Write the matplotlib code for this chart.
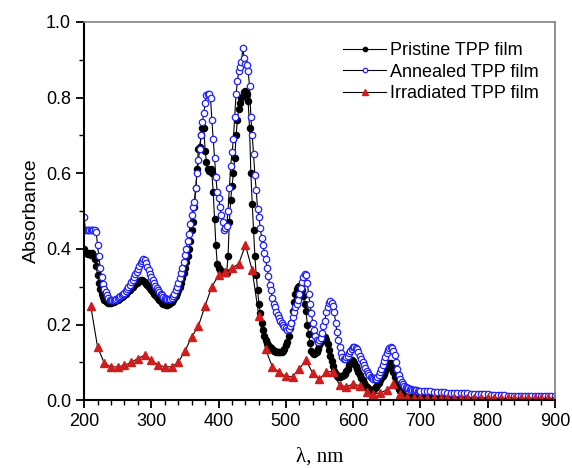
import numpy as np
import matplotlib.pyplot as plt
from matplotlib.ticker import MultipleLocator

# wavelength grid: 2 nm steps up to 700 nm, then 5 nm steps to 900 nm
wl = np.concatenate([np.arange(200, 701, 2), np.arange(705, 901, 5)])

pristine = [
    0.40, 0.39, 0.388, 0.387, 0.39, 0.385, 0.39, 0.385, 0.372, 0.355,
    0.33, 0.31, 0.295, 0.28, 0.272, 0.266, 0.262, 0.26, 0.258, 0.258,
    0.258, 0.259, 0.26, 0.262, 0.264, 0.266, 0.268, 0.27, 0.273, 0.276,
    0.279, 0.282, 0.285, 0.288, 0.292, 0.296, 0.30, 0.304, 0.308, 0.31,
    0.312, 0.315, 0.317, 0.317, 0.315, 0.312, 0.308, 0.304, 0.30, 0.296,
    0.292, 0.287, 0.282, 0.278, 0.274, 0.27, 0.266, 0.262, 0.258, 0.255,
    0.253, 0.252, 0.252, 0.253, 0.256, 0.26, 0.265, 0.27, 0.276, 0.283,
    0.29, 0.30, 0.31, 0.322, 0.335, 0.35, 0.365, 0.38, 0.40, 0.42,
    0.45, 0.47, 0.51, 0.56, 0.61, 0.665, 0.67, 0.70, 0.72, 0.72,
    0.66, 0.63, 0.61, 0.605, 0.61, 0.60, 0.55, 0.48, 0.41, 0.36,
    0.35, 0.345, 0.342, 0.34, 0.338, 0.335, 0.336, 0.38, 0.47, 0.53,
    0.565, 0.60, 0.64, 0.70, 0.74, 0.77, 0.785, 0.80, 0.805, 0.815,
    0.818, 0.81, 0.79, 0.72, 0.60, 0.52, 0.45, 0.38, 0.33, 0.29,
    0.255, 0.23, 0.205, 0.185, 0.17, 0.158, 0.15, 0.145, 0.14, 0.137,
    0.134, 0.131, 0.129, 0.128, 0.127, 0.127, 0.127, 0.128, 0.13, 0.135,
    0.145, 0.155, 0.17, 0.19, 0.205, 0.235, 0.26, 0.28, 0.293, 0.30,
    0.303, 0.302, 0.29, 0.275, 0.255, 0.235, 0.20, 0.175, 0.15, 0.13,
    0.125, 0.123, 0.124, 0.128, 0.136, 0.145, 0.155, 0.162, 0.167, 0.167,
    0.16, 0.148, 0.133, 0.118, 0.103, 0.09, 0.078, 0.068, 0.063, 0.062,
    0.062, 0.063, 0.064, 0.066, 0.07, 0.076, 0.083, 0.092, 0.10, 0.106,
    0.104, 0.098, 0.09, 0.082, 0.074, 0.066, 0.059, 0.052, 0.046, 0.04,
    0.035, 0.031, 0.028, 0.027, 0.027, 0.028, 0.031, 0.035, 0.04, 0.046,
    0.052, 0.058, 0.064, 0.07, 0.077, 0.085, 0.093, 0.098, 0.097, 0.088,
    0.075, 0.06, 0.048, 0.038, 0.03, 0.023, 0.018, 0.014, 0.011, 0.01,
    0.009, 0.009, 0.009, 0.008, 0.008, 0.008, 0.008, 0.008, 0.008, 0.008,
    0.008,
    0.008, 0.008, 0.008, 0.008, 0.008, 0.008, 0.008, 0.008, 0.008, 0.007,
    0.007, 0.007, 0.007, 0.007, 0.007, 0.007, 0.007, 0.007, 0.007, 0.007,
    0.007, 0.007, 0.007, 0.006, 0.006, 0.006, 0.006, 0.006, 0.006, 0.006,
    0.006, 0.006, 0.006, 0.006, 0.006, 0.006, 0.006, 0.006, 0.006, 0.006,
]

annealed = [
    0.485, 0.45, 0.45, 0.45, 0.45, 0.45, 0.45, 0.45, 0.45, 0.445,
    0.41, 0.38, 0.35, 0.325, 0.308, 0.295, 0.285, 0.277, 0.27, 0.266,
    0.264, 0.264, 0.265, 0.266, 0.268, 0.27, 0.272, 0.275, 0.277, 0.28,
    0.283, 0.288, 0.293, 0.298, 0.305, 0.312, 0.318, 0.325, 0.333, 0.34,
    0.348, 0.356, 0.363, 0.369, 0.372, 0.37, 0.363, 0.353, 0.343, 0.334,
    0.325, 0.318, 0.31, 0.303, 0.297, 0.291, 0.286, 0.281, 0.277, 0.273,
    0.27, 0.268, 0.267, 0.267, 0.268, 0.271, 0.276, 0.282, 0.29, 0.30,
    0.31, 0.322, 0.335, 0.35, 0.365, 0.383, 0.40, 0.42, 0.44, 0.465,
    0.49, 0.51, 0.525, 0.56, 0.60, 0.635, 0.665, 0.70, 0.735, 0.76,
    0.785, 0.806, 0.81, 0.81, 0.80, 0.74, 0.69, 0.64, 0.59, 0.55,
    0.535, 0.51, 0.49, 0.47, 0.45, 0.455, 0.46, 0.50, 0.56, 0.62,
    0.655, 0.69, 0.75, 0.81, 0.843, 0.87, 0.88, 0.895, 0.93, 0.905,
    0.888, 0.885, 0.87, 0.83, 0.75, 0.70, 0.65, 0.595, 0.555, 0.505,
    0.485, 0.455, 0.43, 0.41, 0.39, 0.373, 0.35, 0.328, 0.305, 0.29,
    0.27, 0.255, 0.245, 0.232, 0.225, 0.218, 0.21, 0.205, 0.198, 0.194,
    0.19, 0.186, 0.187, 0.195, 0.205, 0.22, 0.232, 0.245, 0.255, 0.265,
    0.28, 0.297, 0.312, 0.325, 0.333, 0.33, 0.31, 0.28, 0.255, 0.23,
    0.205, 0.185, 0.17, 0.16, 0.155, 0.158, 0.165, 0.178, 0.195, 0.21,
    0.232, 0.245, 0.258, 0.262, 0.258, 0.25, 0.232, 0.205, 0.18, 0.158,
    0.14, 0.125, 0.115, 0.11, 0.11, 0.113, 0.118, 0.125, 0.13, 0.136,
    0.14, 0.141, 0.139, 0.134, 0.126, 0.118, 0.11, 0.102, 0.093, 0.085,
    0.078, 0.072, 0.066, 0.061, 0.058, 0.056, 0.055, 0.056, 0.06, 0.066,
    0.074, 0.082, 0.092, 0.103, 0.114, 0.125, 0.132, 0.137, 0.14, 0.137,
    0.13, 0.12, 0.10, 0.082, 0.066, 0.055, 0.047, 0.042, 0.038, 0.035,
    0.033, 0.031, 0.03, 0.029, 0.028, 0.027, 0.026, 0.026, 0.025, 0.025,
    0.024,
    0.024, 0.023, 0.023, 0.022, 0.022, 0.021, 0.021, 0.02, 0.02, 0.02,
    0.019, 0.019, 0.018, 0.018, 0.017, 0.017, 0.016, 0.016, 0.015, 0.015,
    0.014, 0.014, 0.013, 0.013, 0.013, 0.012, 0.012, 0.012, 0.012, 0.011,
    0.011, 0.011, 0.011, 0.011, 0.01, 0.01, 0.01, 0.01, 0.01, 0.01,
]

wl_irr = np.arange(210, 901, 10)
irradiated = [
    0.248, 0.141, 0.098, 0.088, 0.088, 0.092, 0.10, 0.11, 0.119, 0.105,
    0.093, 0.088, 0.088, 0.10, 0.13, 0.167, 0.196, 0.25, 0.30, 0.33,
    0.34, 0.349, 0.361, 0.41, 0.343, 0.222, 0.134, 0.088, 0.074, 0.063,
    0.062, 0.083, 0.106, 0.071, 0.055, 0.075, 0.075, 0.04, 0.035, 0.043,
    0.038, 0.022, 0.017, 0.019, 0.027, 0.043, 0.015, 0.008, 0.006, 0.005,
    0.005, 0.005, 0.005, 0.005, 0.005, 0.005, 0.005, 0.005, 0.005, 0.005,
    0.005, 0.005, 0.005, 0.005, 0.005, 0.005, 0.005, 0.005, 0.005, 0.005,
]

fig = plt.figure(figsize=(5.72, 4.68), dpi=100)
ax = fig.add_axes([0.147, 0.145, 0.823, 0.808])

ax.plot(wl, pristine, '-', color='black', lw=0.8, marker='o', ms=4.4,
        mfc='black', mec='black', label='Pristine TPP film')
ax.plot(wl, annealed, '-', color='black', lw=0.8, marker='o', ms=4.6,
        mfc='white', mec='#2020ff', mew=0.9, label='Annealed TPP film')
ax.plot(wl_irr, irradiated, '-', color='black', lw=0.8, marker='^', ms=5.5,
        mfc='#d01c1c', mec='#d01c1c', label='Irradiated TPP film')

ax.set_xlim(200, 900)
ax.set_ylim(0, 1.0)
ax.xaxis.set_major_locator(MultipleLocator(100))
ax.xaxis.set_minor_locator(MultipleLocator(20))
ax.yaxis.set_major_locator(MultipleLocator(0.2))
ax.yaxis.set_minor_locator(MultipleLocator(0.1))
ax.yaxis.set_major_formatter(plt.FormatStrFormatter('%.1f'))
ax.tick_params(which='major', direction='out', length=6, width=1.3,
               labelsize=13, top=False, right=False)
ax.tick_params(which='minor', direction='out', length=3.5, width=1,
               top=False, right=False)
for lab in ax.get_xticklabels() + ax.get_yticklabels():
    lab.set_family('Liberation Sans')

ax.spines['left'].set_linewidth(1.5)
ax.spines['bottom'].set_linewidth(1.5)
for s in ['top', 'right']:
    ax.spines[s].set_color('#808080')
    ax.spines[s].set_linewidth(1.2)

ax.set_ylabel('Absorbance', family='Liberation Sans', fontsize=14)
ax.set_xlabel('λ, nm', family='Liberation Serif', fontsize=15)
ax.xaxis.set_label_coords(0.5, -0.125)

leg = ax.legend(loc='upper right', frameon=False, handlelength=2.4,
                prop={'family': 'Liberation Sans', 'size': 13},
                labelspacing=0.25, handletextpad=0.2,
                bbox_to_anchor=(1.0, 0.99), markerscale=0.7)

fig.savefig('out.png', dpi=100)
